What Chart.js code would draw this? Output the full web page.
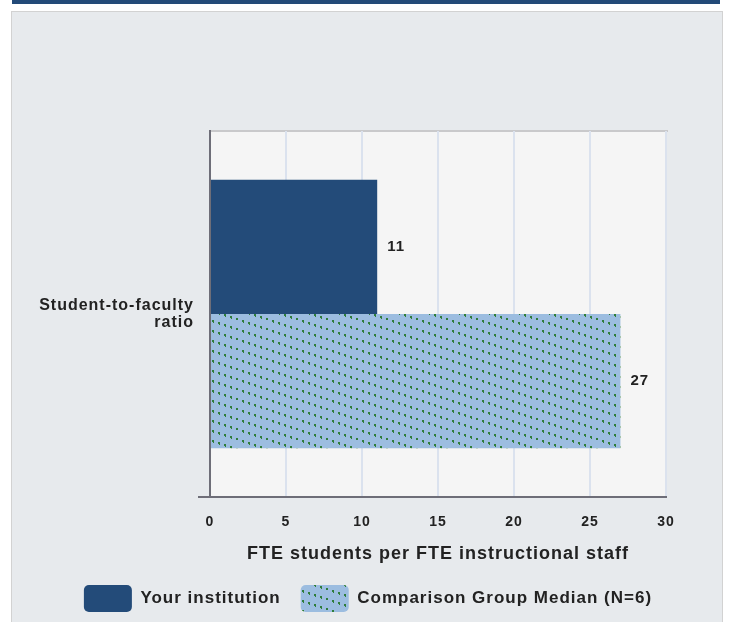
<!DOCTYPE html>
<html>
<head>
<meta charset="utf-8">
<script src="https://cdn.jsdelivr.net/npm/chart.js@4"></script>
<style>
  html, body { margin: 0; padding: 0; background: #fff; }
  .topbar { position: absolute; left: 12px; top: 0; width: 708px; height: 4px; background: #234a78; }
  .panel { position: absolute; left: 11px; top: 11px; width: 710px; height: 620px; background: #e7eaed; border: 1px solid #d2d2d2; }
  canvas { position: absolute; left: 0; top: 0; }
</style>
</head>
<body>
<div class="topbar"></div>
<div class="panel"></div>
<canvas id="ratioChart" width="731" height="622"></canvas>
<script>
const categories = [["Student-to-faculty", "ratio"]];
const seriesNames = ["Your institution", "Comparison Group Median (N=6)"];
const institutionValues = [11];
const medianValues = [27];
const xTicks = [0, 5, 10, 15, 20, 25, 30];
const axisTitle = "FTE students per FTE instructional staff";

const FONT = "'Liberation Sans', Arial, sans-serif";
const TEXT = "#222";

// light blue fill with diagonal dotted green lines
function dottedHatch() {
  const tile = document.createElement("canvas");
  tile.width = 30;
  tile.height = 10;
  const t = tile.getContext("2d");
  t.fillStyle = "#9cbde0";
  t.fillRect(0, 0, 30, 10);
  t.fillStyle = "#2f7d3a";
  const dots = [[2, 0], [8, 2], [14, 4], [20, 6], [26, 8]];
  dots.forEach(([x, y]) => {
    t.fillRect(x, y, 2, 2);
    t.fillRect(x + 1, y + 2, 1, 1);
  });
  return t.createPattern(tile, "repeat");
}

const plotFrame = {
  id: "plotFrame",
  afterInit(chart) {
    chart.ctx.letterSpacing = "1px";
  },
  afterLayout(chart) {
    // the legend row is centred on the whole panel, not just the plot
    chart.legend.left += 35;
    chart.legend.right += 35;
  },
  beforeDraw(chart) {
    const { ctx, chartArea: a } = chart;
    ctx.save();
    ctx.fillStyle = "#f5f5f5";
    ctx.fillRect(a.left, a.top, a.right - a.left, a.bottom - a.top);
    ctx.fillStyle = "#c9c9cb";
    ctx.fillRect(a.left, a.top - 1, a.right - a.left + 2, 2);
    ctx.restore();
  },
  afterDraw(chart) {
    const { ctx, chartArea: a } = chart;
    ctx.save();
    ctx.fillStyle = "#6e6e78";
    ctx.fillRect(a.left - 12, a.bottom - 1, a.right - a.left + 13, 2);
    ctx.restore();
  }
};

const valueLabels = {
  id: "valueLabels",
  afterDatasetsDraw(chart) {
    const ctx = chart.ctx;
    ctx.save();
    ctx.font = "bold 15px " + FONT;
    ctx.fillStyle = TEXT;
    ctx.textAlign = "left";
    ctx.textBaseline = "middle";
    chart.data.datasets.forEach((ds, i) => {
      chart.getDatasetMeta(i).data.forEach((bar, j) => {
        ctx.fillText(String(ds.data[j]), bar.x + 10, bar.y);
      });
    });
    ctx.restore();
  }
};

const chart = new Chart(document.getElementById("ratioChart"), {
  type: "bar",
  data: {
    labels: categories,
    datasets: [
      {
        label: seriesNames[0],
        data: institutionValues,
        backgroundColor: "#234b79",
        borderWidth: 0
      },
      {
        label: seriesNames[1],
        data: medianValues,
        backgroundColor: dottedHatch(),
        borderWidth: 0
      }
    ]
  },
  options: {
    indexAxis: "y",
    responsive: false,
    animation: false,
    categoryPercentage: 0.734,
    barPercentage: 1,
    layout: { padding: { top: 131, right: 65, left: 0, bottom: 0 } },
    scales: {
      x: {
        min: 0,
        max: 30,
        afterBuildTicks(scale) {
          scale.ticks = xTicks.map(v => ({ value: v }));
        },
        afterFit(scale) {
          scale.height = 68;
        },
        grid: {
          color: ctx => (ctx.tick && ctx.tick.value === 0 ? "rgba(0,0,0,0)" : "#dbe2ee"),
          lineWidth: 2,
          drawTicks: false
        },
        border: { display: false },
        ticks: {
          padding: 17,
          color: TEXT,
          font: { family: FONT, size: 14, weight: "bold" }
        },
        title: {
          display: true,
          text: axisTitle,
          color: TEXT,
          padding: { top: 0, bottom: 0 },
          font: { family: FONT, size: 18, weight: "bold" }
        }
      },
      y: {
        afterFit(scale) {
          scale.width = 210;
        },
        grid: { display: false, drawTicks: false },
        border: { display: true, color: "#6e6e78", width: 2 },
        ticks: {
          padding: 16,
          color: TEXT,
          font: { family: FONT, size: 16, weight: "bold", lineHeight: 1.1 }
        }
      }
    },
    plugins: {
      legend: {
        position: "bottom",
        labels: {
          boxWidth: 48,
          boxHeight: 27,
          useBorderRadius: true,
          borderRadius: 5,
          padding: 20,
          color: TEXT,
          font: { family: FONT, size: 17, weight: "bold" }
        }
      },
      tooltip: { enabled: false }
    }
  },
  plugins: [plotFrame, valueLabels]
});
</script>
</body>
</html>
